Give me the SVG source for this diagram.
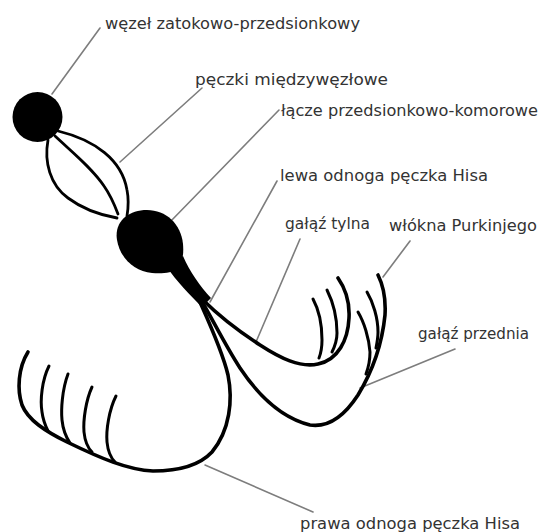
<svg xmlns="http://www.w3.org/2000/svg" width="543" height="532" viewBox="0 0 543 532">
  <style>
    .lbl { font-family: "DejaVu Sans", "Liberation Sans", sans-serif; font-size: 15px; fill: #333; }
    .leader { stroke: #7d7d7d; stroke-width: 1.6; fill: none; stroke-linecap: round; }
    .fibre { stroke: #000; fill: none; stroke-linecap: round; stroke-linejoin: round; }
    .bundle { stroke-width: 2.8; }
    .branch { stroke-width: 3.6; }
    .twig { stroke-width: 3; }
  </style>
  <rect width="543" height="532" fill="#fff"/>

  <!-- label leader lines -->
  <g id="connectors">
    <line class="leader" x1="52" y1="94" x2="100" y2="28"/>
    <line class="leader" x1="120" y1="162" x2="202" y2="88"/>
    <line class="leader" x1="170" y1="222" x2="279" y2="110"/>
    <line class="leader" x1="210" y1="302" x2="277" y2="181"/>
    <line class="leader" x1="256" y1="342" x2="300" y2="239"/>
    <line class="leader" x1="383" y1="277" x2="410" y2="241"/>
    <line class="leader" x1="360" y1="388" x2="455" y2="349"/>
    <line class="leader" x1="205" y1="465" x2="313" y2="512"/>
  </g>

  <!-- sinoatrial node -->
  <g id="sa-node">
    <circle cx="37.5" cy="117" r="25" fill="#000"/>
  </g>

  <!-- internodal tracts -->
  <g id="internodal">
    <path class="fibre bundle" d="M58,131 C95,140 122,160 127,190 C129,200 128,210 127,216"/>
    <path class="fibre bundle" d="M55,136 C72,152 92,168 104,186 C111,196 115,206 118,214"/>
    <path class="fibre bundle" d="M48,140 C44,162 50,185 68,198 C84,210 100,215 117,218"/>
  </g>

  <!-- atrioventricular node and bundle trunk -->
  <g id="av-node">
    <path fill="#000" d="M147,210 C166,210 181,224 183,244 C184,256 182,263 178,268 C172,273 162,274 152,273 C134,271 120,258 117,240 C114,222 128,210 147,210 Z"/>
    <path fill="#000" d="M166,266 L183,256 C190,272 200,286 211,298 L202,307 C190,295 177,282 166,266 Z"/>
  </g>

  <!-- right bundle branch with Purkinje fibres -->
  <g id="right-branch">
    <path class="fibre branch" d="M199,300 C207,318 222,350 228,375 C233,400 230,430 212,452 C198,467 175,471 153,471 C128,470 100,458 67,442 C45,431 28,420 22,405 C17,390 18,368 28,352"/>
    <path class="fibre twig" d="M49,366 C42,380 40,400 42,412 C43,420 45,425 48,431"/>
    <path class="fibre twig" d="M68,374 C62,390 61,410 62,420 C63,430 66,437 70,443"/>
    <path class="fibre twig" d="M92,387 C86,400 83,420 84,432 C85,442 88,448 92,452"/>
    <path class="fibre twig" d="M116,396 C109,410 106,430 107,442 C108,452 111,458 115,462"/>
  </g>

  <!-- left bundle, posterior fascicle -->
  <g id="posterior-fascicle">
    <path class="fibre branch" d="M203,300 C218,315 240,332 260,345 C280,358 300,368 318,364 C338,360 348,340 349,318 C350,300 345,288 338,278"/>
    <path class="fibre twig" d="M313,299 C319,310 322,325 322,340 C322,348 321,353 319,358"/>
    <path class="fibre twig" d="M327,290 C333,302 337,318 337,333 C337,340 335,346 332,352"/>
  </g>

  <!-- left bundle, anterior fascicle -->
  <g id="anterior-fascicle">
    <path class="fibre branch" d="M201,300 C213,320 225,345 240,368 C258,395 282,418 310,425 C330,428 345,415 358,395 C372,372 382,345 385,315 C386,298 383,285 378,275"/>
    <path class="fibre twig" d="M358,312 C364,322 369,338 370,352 C370,360 369,366 366,374"/>
    <path class="fibre twig" d="M367,292 C373,302 378,318 378,332 C378,338 377,343 376,348"/>
  </g>

  <!-- labels -->
  <g id="labels">
    <text class="lbl" x="105" y="29" textLength="255" lengthAdjust="spacingAndGlyphs">węzeł zatokowo-przedsionkowy</text>
    <text class="lbl" x="195" y="85" textLength="193" lengthAdjust="spacingAndGlyphs">pęczki międzywęzłowe</text>
    <text class="lbl" x="281" y="116" textLength="257" lengthAdjust="spacingAndGlyphs">łącze przedsionkowo-komorowe</text>
    <text class="lbl" x="280" y="181" textLength="208" lengthAdjust="spacingAndGlyphs">lewa odnoga pęczka Hisa</text>
    <text class="lbl" x="285" y="229" textLength="85" lengthAdjust="spacingAndGlyphs">gałąź tylna</text>
    <text class="lbl" x="389" y="231" textLength="148" lengthAdjust="spacingAndGlyphs">włókna Purkinjego</text>
    <text class="lbl" x="418" y="339" textLength="111" lengthAdjust="spacingAndGlyphs">gałąź przednia</text>
    <text class="lbl" x="300" y="529" textLength="220" lengthAdjust="spacingAndGlyphs">prawa odnoga pęczka Hisa</text>
  </g>
</svg>
